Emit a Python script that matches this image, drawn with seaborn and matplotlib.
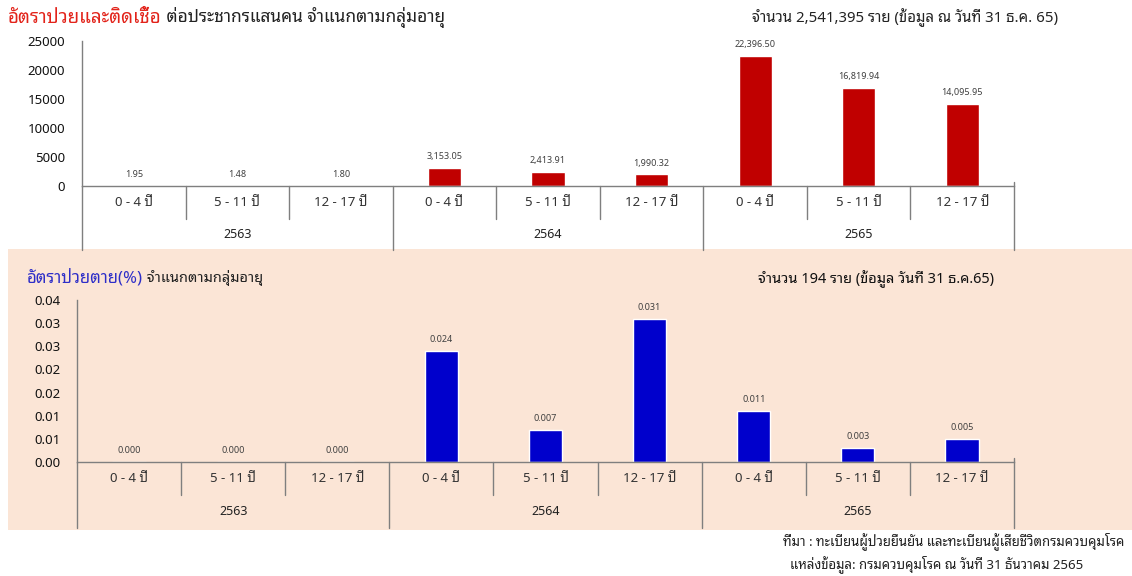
import matplotlib
matplotlib.use("Agg")
import matplotlib.pyplot as plt
import pandas as pd
import seaborn as sns
from matplotlib.patches import Rectangle

years = ["2563", "2564", "2565"]
age_groups = ["0 - 4 ปี", "5 - 11 ปี", "12 - 17 ปี"]
infection_rate = [1.95, 1.48, 1.80, 3153.05, 2413.91, 1990.32, 22396.50, 16819.94, 14095.95]
fatality_rate = [0.000, 0.000, 0.000, 0.024, 0.007, 0.031, 0.011, 0.003, 0.005]
infection_ticks = [0, 5000, 10000, 15000, 20000, 25000]
fatality_ticks = [0, 0.005, 0.01, 0.015, 0.02, 0.025, 0.03, 0.035]
fatality_ticklabels = ["0.00", "0.01", "0.01", "0.02", "0.02", "0.03", "0.03", "0.04"]

sns.set_style("white")
plt.rcParams["font.family"] = ["Noto Sans Thai Looped", "Noto Sans", "DejaVu Sans"]

df = pd.DataFrame({
    "year": [y for y in years for _ in age_groups],
    "age": age_groups * len(years),
    "infection": infection_rate,
    "fatality": fatality_rate,
})
df["slot"] = df["year"] + "|" + df["age"]

W, H = 1132, 576
GRAY = "#7f7f7f"

fig = plt.figure(figsize=(W / 100, H / 100), dpi=100)
# peach band behind the lower chart
fig.patches.append(Rectangle((8 / W, 1 - 530 / H), (W - 8) / W, 281 / H,
                             transform=fig.transFigure, facecolor="#FBE5D6",
                             edgecolor="none", zorder=-5))

ax_top = fig.add_axes([82 / W, 1 - 186 / H, (1014 - 82) / W, 145 / H])
ax_bot = fig.add_axes([77 / W, 1 - 462 / H, (1014 - 77) / W, 162 / H])
ax_top.set_facecolor("none")
ax_bot.set_facecolor("none")


def draw_panel(ax, col, color, fmt, ticks, ticklabels, row_px, group_px, height_px):
    sns.barplot(data=df, x="slot", y=col, color=color, width=0.32,
                saturation=1, errorbar=None, ax=ax)
    ax.set_xlim(-0.5, len(df) - 0.5)
    ax.set_ylim(0, ticks[-1])
    ax.set_yticks(ticks)
    ax.set_yticklabels(ticklabels)
    ax.set_xticks(range(len(df)))
    ax.set_xticklabels([])
    ax.set_xlabel("")
    ax.set_ylabel("")
    ax.tick_params(axis="x", direction="in", length=3, color=GRAY, width=0.8)
    ax.tick_params(axis="y", direction="in", length=4, color=GRAY, width=0.8,
                   labelsize=9.5, pad=12, labelcolor="#111111")
    for s in ["top", "right"]:
        ax.spines[s].set_visible(False)
    for s in ["left", "bottom"]:
        ax.spines[s].set_color(GRAY)
        ax.spines[s].set_linewidth(1.0)
    ax.bar_label(ax.containers[0], labels=[fmt.format(v) for v in df[col]],
                 padding=5, fontsize=6.5, color="#404040")

    # category table below the axis
    trans = ax.get_xaxis_transform()
    r = row_px / height_px
    g = group_px / height_px
    n = len(df)
    for i in range(n + 1):
        x = i - 0.5
        if i == n:
            y0, y1 = 4 / height_px, -g
        elif i % 3 == 0:
            y0, y1 = 0, -g
        else:
            y0, y1 = 0, -r
        ax.plot([x, x], [y0, y1], transform=trans, clip_on=False, color=GRAY, lw=1.0)
    for i, age in enumerate(df["age"]):
        ax.text(i, -r / 2, age, transform=trans, ha="center", va="center",
                fontsize=9.5, fontweight="bold", color="#333333")
    for k, y in enumerate(years):
        ax.text(3 * k + 1, -(r + g) / 2, y, transform=trans, ha="center",
                va="center", fontsize=9, color="#222222")


draw_panel(ax_top, "infection", "#C00000", "{:,.2f}", infection_ticks,
           [str(t) for t in infection_ticks], 33, 64, 145)
draw_panel(ax_bot, "fatality", "#0000CC", "{:.3f}", fatality_ticks,
           fatality_ticklabels, 33, 66, 162)

t1 = fig.text(8 / W, 1 - 18 / H, "อัตราป่วยและติดเชื้อ", color="#E2231A",
              fontsize=13.5, fontweight="bold", va="center", ha="left")
ax_top.annotate(" ต่อประชากรแสนคน จำแนกตามกลุ่มอายุ", xy=(1, 0.5), xycoords=t1,
                va="center", ha="left", fontsize=12.5, fontweight="bold",
                color="#222222")
fig.text(1058 / W, 1 - 18 / H, "จำนวน 2,541,395 ราย (ข้อมูล ณ วันที่ 31 ธ.ค. 65)",
         ha="right", va="center", fontsize=10.8, fontweight="bold", color="#222222")

t2 = fig.text(27 / W, 1 - 278 / H, "อัตราป่วยตาย(%)", color="#2E2EC8",
              fontsize=12, fontweight="bold", va="center", ha="left")
ax_bot.annotate(" จำแนกตามกลุ่มอายุ", xy=(1, 0.5), xycoords=t2,
                va="center", ha="left", fontsize=10.5, fontweight="bold",
                color="#222222")
fig.text(994 / W, 1 - 279 / H, "จำนวน 194 ราย (ข้อมูล วันที่ 31 ธ.ค.65)",
         ha="right", va="center", fontsize=10.5, fontweight="bold", color="#111111")

fig.text(783 / W, 1 - 541 / H, "ที่มา : ทะเบียนผู้ป่วยยืนยัน และทะเบียนผู้เสียชีวิตกรมควบคุมโรค",
         ha="left", va="center", fontsize=9.5, fontweight="bold", color="#222222")
fig.text(790 / W, 1 - 564 / H, "แหล่งข้อมูล: กรมควบคุมโรค ณ วันที่ 31 ธันวาคม 2565",
         ha="left", va="center", fontsize=9.5, fontweight="bold", color="#222222")

fig.savefig("out.png", dpi=100, facecolor="white")
